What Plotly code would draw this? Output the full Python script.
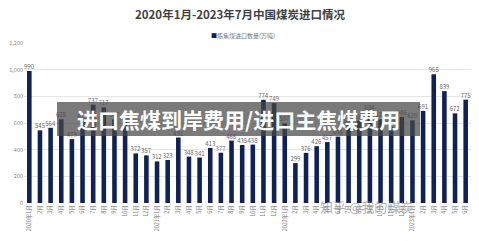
import plotly.graph_objects as go

months = [
    "2020年1月", "2月", "3月", "4月", "5月", "6月", "7月", "8月", "9月", "10月", "11月", "12月",
    "2021年1月", "2月", "3月", "4月", "5月", "6月", "7月", "8月", "9月", "10月", "11月", "12月",
    "2022年1月", "2月", "3月", "4月", "5月", "6月", "7月", "8月", "9月", "10月", "11月", "12月",
    "2023年1月", "2月", "3月", "4月", "5月", "6月",
]
imports = [
    990, 545, 564, 628, 479, 616, 737, 717, 627, 610, 372, 357,
    312, 323, 491, 348, 341, 413, 377, 468, 435, 438, 774, 749,
    597, 299, 376, 426, 457, 498, 583, 618, 684, 628, 571, 646,
    620, 691, 965, 839, 672, 775,
]
x_index = list(range(len(months)))

title_text = "2020年1月-2023年7月中国煤炭进口情况"
legend_text = "炼焦煤进口数量(万吨)"
banner_text = "进口焦煤到岸费用/进口主焦煤费用"
watermark_text = "知乎 @我的煤炭"

FONT = "Noto Sans CJK SC, Noto Sans, sans-serif"
NAVY = "#0f2155"

fig = go.Figure()
fig.add_trace(go.Bar(
    x=x_index, y=imports,
    marker=dict(color=NAVY, line=dict(width=0)),
    text=imports, textposition="outside", cliponaxis=False,
    textfont=dict(size=6, color="#666666", family=FONT),
    showlegend=False,
))

fig.update_layout(
    width=479, height=241,
    margin=dict(l=24, r=8, t=43, b=38),
    paper_bgcolor="white", plot_bgcolor="white",
    bargap=0.57,
    font=dict(family=FONT),
    uniformtext=dict(minsize=5, mode="show"),
    xaxis=dict(
        tickmode="array", tickvals=x_index, ticktext=months,
        tickangle=-90, tickfont=dict(size=5.5, color="#777777"),
        showgrid=False, showline=False, ticks="", range=[-0.5, len(months) - 0.5],
    ),
    yaxis=dict(
        range=[0, 1200], dtick=200, tickformat=",",
        tickfont=dict(size=5.5, color="#888888"),
        gridcolor="#e6e6e6", gridwidth=1, zeroline=False, showline=False, ticks="",
    ),
    annotations=[
        dict(text=f"<b>{title_text}</b>", x=0.5, y=14, xref="paper", yref="paper",
             showarrow=False, font=dict(size=11.5, color="#404040", family=FONT), yanchor="middle"),
        dict(text=f"<span style='color:{NAVY}'>■</span>{legend_text}", x=0.5, xref="paper",
             y=1.1, yref="paper", showarrow=False, font=dict(size=6, color="#777777", family=FONT)),
        dict(text=f"<b>{banner_text}</b>", x=238, xref="paper", y=119, yref="paper",
             showarrow=False, font=dict(size=21, color="white", family=FONT)),
        dict(text=watermark_text, x=415, y=218, xref="paper", yref="paper",
             showarrow=False, font=dict(size=13, color="rgba(150,150,150,0.75)", family=FONT)),
    ],
)

# Convert pixel-positioned annotations to paper coords
W, H = 479, 241
l, r, t, b = 24, 8, 43, 38
pw, ph = W - l - r, H - t - b
def px_x(px):
    return (px - l) / pw
def px_y(py):
    return (H - b - py) / ph

anns = list(fig.layout.annotations)
anns[0].update(x=px_x(240), y=px_y(14))
anns[1].update(x=px_x(243), y=px_y(29))
anns[2].update(x=px_x(238), y=px_y(119))
anns[3].update(x=px_x(415), y=px_y(218))
fig.layout.annotations = anns

fig.add_shape(type="rect", xref="paper", yref="paper",
              x0=px_x(57), x1=px_x(420), y0=px_y(136), y1=px_y(102),
              fillcolor="rgba(70,70,70,0.72)", line=dict(width=0), layer="above")

fig.write_html("out.html")
